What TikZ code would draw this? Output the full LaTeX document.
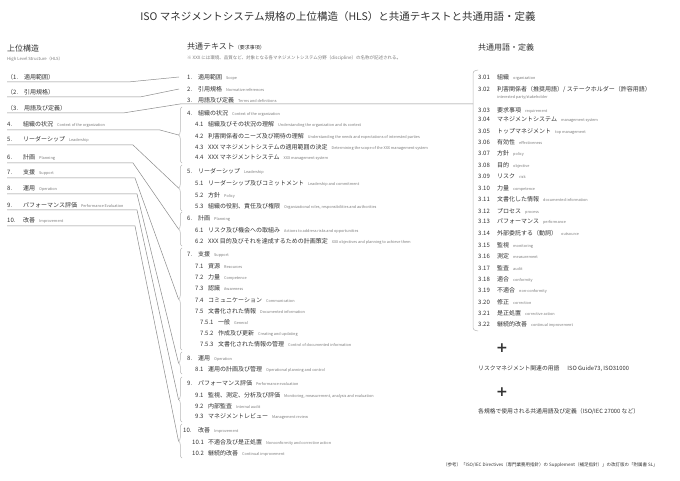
\documentclass[tikz,border=0pt]{standalone}
\usepackage{fontspec}
\setmainfont{Noto Sans CJK JP}
\newfontfamily\plusfont{DejaVu Sans}
\usetikzlibrary{decorations.pathreplacing}
\definecolor{txt}{HTML}{333333}
\definecolor{engray}{HTML}{7A7A7A}
\definecolor{linegray}{HTML}{8C8C8C}
\definecolor{bracegray}{HTML}{B8B8B8}
\newcommand{\en}[1]{\hspace{4pt}{\fontsize{3.8}{4}\selectfont\color{engray}#1}}
\newcommand{\nb}[2]{\makebox[#1][l]{#2}}
\begin{document}
\begin{tikzpicture}[x=1pt, y=-1pt,
  every node/.style={inner sep=0pt, anchor=west, text=txt, font=\fontsize{6}{7}\selectfont},
  head/.style={font=\fontsize{8}{9}\selectfont},
  note/.style={text=engray, font=\fontsize{4.5}{5}\selectfont},
  lefti/.style={anchor=south west, inner ysep=2pt},
  conn/.style={draw=linegray, line width=0.5pt},
  grp/.style={draw=bracegray, line width=0.5pt, decorate, decoration={brace, amplitude=3.5pt}}]
  \path[fill=white] (0,0) rectangle (680,481);
  \node[anchor=center, font=\fontsize{10.5}{12}\selectfont] (title) at (338,17) {ISO マネジメントシステム規格の上位構造（HLS）と共通テキストと共通用語・定義};

  % left column
  \node[head] (hls) at (7,48) {上位構造};
  \node[note, font=\fontsize{4.2}{5}\selectfont] (hlsen) at (7,59) {High Level Structure（HLS）};
  \node[lefti] (l1) at (7,82) {（1.\hspace{6pt}適用範囲）};
  \node[lefti] (l2) at (7,97) {（2.\hspace{6pt}引用規格）};
  \node[lefti] (l3) at (7,113) {（3.\hspace{6pt}用語及び定義）};
  \node[lefti] (l4) at (7,130) {\nb{16pt}{4.}組織の状況\en{Context of the organization}};
  \node[lefti] (l5) at (7,145) {\nb{16pt}{5.}リーダーシップ\en{Leadership}};
  \node[lefti] (l6) at (7,163) {\nb{16pt}{6.}計画\en{Planning}};
  \node[lefti] (l7) at (7,178) {\nb{16pt}{7.}支援\en{Support}};
  \node[lefti] (l8) at (7,194) {\nb{16pt}{8.}運用\en{Operation}};
  \node[lefti] (l9) at (7,210) {\nb{16pt}{9.}パフォーマンス評価\en{Performance Evaluation}};
  \node[lefti] (l10) at (7,226) {\nb{16pt}{10.}改善\en{Improvement}};

  % middle column
  \node[head] (com) at (187,47) {共通テキスト{\fontsize{5}{6}\selectfont（要求事項）}};
  \node[note] (comnote) at (187,58) {※ XXX には環境、品質など、対象となる各マネジメントシステム分野（discipline）の名称が記述される。};
  \node (m1) at (187,77) {\nb{11pt}{1.}適用範囲\en{Scope}};
  \node (m2) at (187,89) {\nb{11pt}{2.}引用規格\en{Normative references}};
  \node (m3) at (187,100) {\nb{11pt}{3.}用語及び定義\en{Terms and definitions}};
  \node (m4) at (187,113) {\nb{11pt}{4.}組織の状況\en{Context of the organization}};
  \node (m41) at (195,124) {\nb{13pt}{4.1}組織及びその状況の理解\en{Understanding the organization and its context}};
  \node (m42) at (195,136) {\nb{13pt}{4.2}利害関係者のニーズ及び期待の理解\en{Understanding the needs and expectations of interested parties}};
  \node (m43) at (195,147) {\nb{13pt}{4.3}XXX マネジメントシステムの適用範囲の決定\en{Determining the scope of the XXX management system}};
  \node (m44) at (195,158) {\nb{13pt}{4.4}XXX マネジメントシステム\en{XXX management system}};
  \node (m5) at (187,171) {\nb{11pt}{5.}リーダーシップ\en{Leadership}};
  \node (m51) at (195,183) {\nb{13pt}{5.1}リーダーシップ及びコミットメント\en{Leadership and commitment}};
  \node (m52) at (195,195) {\nb{13pt}{5.2}方針\en{Policy}};
  \node (m53) at (195,206) {\nb{13pt}{5.3}組織の役割、責任及び権限\en{Organizational roles, responsibilities and authorities}};
  \node (m6) at (187,218) {\nb{11pt}{6.}計画\en{Planning}};
  \node (m61) at (195,230) {\nb{13pt}{6.1}リスク及び機会への取組み\en{Actions to address risks and opportunities}};
  \node (m62) at (195,241) {\nb{13pt}{6.2}XXX 目的及びそれを達成するための計画策定\en{XXX objectives and planning to achieve them}};
  \node (m7) at (187,254) {\nb{11pt}{7.}支援\en{Support}};
  \node (m71) at (195,266) {\nb{13pt}{7.1}資源\en{Resources}};
  \node (m72) at (195,277) {\nb{13pt}{7.2}力量\en{Competence}};
  \node (m73) at (195,288) {\nb{13pt}{7.3}認識\en{Awareness}};
  \node (m74) at (195,300) {\nb{13pt}{7.4}コミュニケーション\en{Communication}};
  \node (m75) at (195,311) {\nb{13pt}{7.5}文書化された情報\en{Documented information}};
  \node (m751) at (200,322) {\nb{18pt}{7.5.1}一般\en{General}};
  \node (m752) at (200,333) {\nb{18pt}{7.5.2}作成及び更新\en{Creating and updating}};
  \node (m753) at (200,344) {\nb{18pt}{7.5.3}文書化された情報の管理\en{Control of documented information}};
  \node (m8) at (187,358) {\nb{11pt}{8.}運用\en{Operation}};
  \node (m81) at (195,369) {\nb{13pt}{8.1}運用の計画及び管理\en{Operational planning and control}};
  \node (m9) at (187,383) {\nb{11pt}{9.}パフォーマンス評価\en{Performance evaluation}};
  \node (m91) at (195,395) {\nb{13pt}{9.1}監視、測定、分析及び評価\en{Monitoring, measurement, analysis and evaluation}};
  \node (m92) at (195,406) {\nb{13pt}{9.2}内部監査\en{Internal audit}};
  \node (m93) at (195,417) {\nb{13pt}{9.3}マネジメントレビュー\en{Management review}};
  \node (m10) at (183,430) {\nb{15pt}{10.}改善\en{Improvement}};
  \node (m101) at (192,442) {\nb{16pt}{10.1}不適合及び是正処置\en{Nonconformity and corrective action}};
  \node (m102) at (192,453) {\nb{16pt}{10.2}継続的改善\en{Continual improvement}};

  % group braces
  \draw[grp] (182,163) -- (182,107);
  \draw[grp] (182,211) -- (182,165);
  \draw[grp] (182,246) -- (182,212);
  \draw[grp] (182,350) -- (182,248);
  \draw[grp] (182,374) -- (182,352);
  \draw[grp] (182,422) -- (182,377);
  \draw[grp] (182,458) -- (182,424);
  \coordinate (b4) at (178.5,135);
  \coordinate (b5) at (178.5,188);
  \coordinate (b6) at (178.5,229);
  \coordinate (b7) at (178.5,299);
  \coordinate (b8) at (178.5,363);
  \coordinate (b9) at (178.5,399.5);
  \coordinate (b10) at (178.5,441);

  % right column
  \node[head] (terms) at (478,47) {共通用語・定義};
  \node (t01) at (478,77) {\nb{19pt}{3.01}組織\en{organization}};
  \node (t02) at (478,89) {\nb{19pt}{3.02}利害関係者（推奨用語）/ ステークホルダー（許容用語）};
  \node[font=\fontsize{3.8}{4}\selectfont, text=engray] (t02en) at (497,97) {interested party/stakeholder};
  \node (t03) at (478,110) {\nb{19pt}{3.03}要求事項\en{requirement}};
  \node (t04) at (478,120) {\nb{19pt}{3.04}マネジメントシステム\en{management system}};
  \node (t05) at (478,131) {\nb{19pt}{3.05}トップマネジメント\en{top management}};
  \node (t06) at (478,142) {\nb{19pt}{3.06}有効性\en{effectiveness}};
  \node (t07) at (478,153) {\nb{19pt}{3.07}方針\en{policy}};
  \node (t08) at (478,165) {\nb{19pt}{3.08}目的\en{objective}};
  \node (t09) at (478,176) {\nb{19pt}{3.09}リスク\en{risk}};
  \node (t10) at (478,188) {\nb{19pt}{3.10}力量\en{competence}};
  \node (t11) at (478,199) {\nb{19pt}{3.11}文書化した情報\en{documented information}};
  \node (t12) at (478,211) {\nb{19pt}{3.12}プロセス\en{process}};
  \node (t13) at (478,222) {\nb{19pt}{3.13}パフォーマンス\en{performance}};
  \node (t14) at (478,233) {\nb{19pt}{3.14}外部委託する（動詞）\en{outsource}};
  \node (t15) at (478,245) {\nb{19pt}{3.15}監視\en{monitoring}};
  \node (t16) at (478,256) {\nb{19pt}{3.16}測定\en{measurement}};
  \node (t17) at (478,268) {\nb{19pt}{3.17}監査\en{audit}};
  \node (t18) at (478,279) {\nb{19pt}{3.18}適合\en{conformity}};
  \node (t19) at (478,290) {\nb{19pt}{3.19}不適合\en{non-conformity}};
  \node (t20) at (478,302) {\nb{19pt}{3.20}修正\en{correction}};
  \node (t21) at (478,313) {\nb{19pt}{3.21}是正処置\en{corrective action}};
  \node (t22) at (478,324) {\nb{19pt}{3.22}継続的改善\en{continual improvement}};
  \draw[draw=bracegray, line width=0.5pt] (478,70) .. controls (473,71) .. (473,77) -- (473,324) .. controls (473,330) .. (478,331);
  \coordinate (tb) at (473,104);

  \node[anchor=center, font=\plusfont\bfseries\fontsize{14}{14}\selectfont] (plus1) at (502,348) {+};
  \node[font=\fontsize{5.8}{7}\selectfont] (risk) at (478,369) {リスクマネジメント関連の用語\hspace{8pt}ISO Guide73, ISO31000};
  \node[anchor=center, font=\plusfont\bfseries\fontsize{14}{14}\selectfont] (plus2) at (502,392) {+};
  \node[font=\fontsize{5.8}{7}\selectfont] (each) at (478,412) {各規格で使用される共通用語及び定義（ISO/IEC 27000 など）};
  \node[note, text=txt] (ref) at (443,465) {（参考）「ISO/IEC Directives（専門業務用指針）の Supplement（補足指針）」の改訂版の「附属書 SL」};

  % connectors
  \coordinate (m3u) at (180,104);
  \draw[conn] (l1.south west) -- ++(121,0) -- ([xshift=-8pt]m1.west);
  \draw[conn] (l2.south west) -- ++(133,0) -- ([xshift=-8pt]m2.west);
  \draw[conn] (l3.south west) -- ++(116,0) -- (m3u) -- (tb);
  \draw[conn] (l4.south west) -- ++(153,0) -- (b4);
  \draw[conn] (l5.south west) -- ++(126,0) -- (b5);
  \draw[conn] (l6.south west) -- ++(126,0) -- (b6);
  \draw[conn] (l7.south west) -- ++(128,0) -- (b7);
  \draw[conn] (l8.south west) -- ++(130,0) -- (b8);
  \draw[conn] (l9.south west) -- ++(130,0) -- (b9);
  \draw[conn] (l10.south west) -- ++(128,0) -- (b10);
\end{tikzpicture}
\end{document}
